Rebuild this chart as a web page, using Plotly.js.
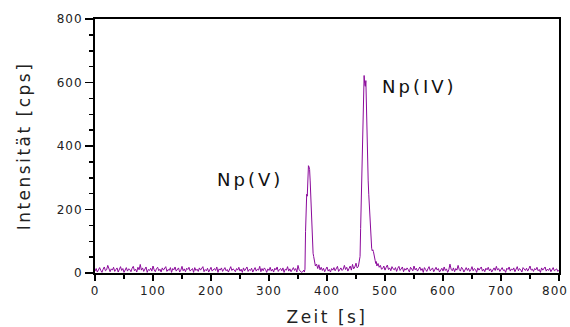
<!DOCTYPE html>
<html>
<head>
<meta charset="utf-8">
<script src="https://cdn.plot.ly/plotly-3.0.1.min.js"></script>
<style>
  html, body { margin: 0; padding: 0; background: #fff; }
  #chart { width: 570px; height: 327px; }
  .xtick text, .ytick text { letter-spacing: 1px; }
  .xtitle, .ytitle { letter-spacing: 2.5px; }
  .annotation-text { letter-spacing: 3px; }
</style>
</head>
<body>
<div id="chart"></div>
<script>
// Baseline before Np(V)
const timeA = [0,2,4,6,8,10,12,14,16,18,
  20,22,24,26,28,30,32,34,36,38,
  40,42,44,46,48,50,52,54,56,58,
  60,62,64,66,68,70,72,74,76,78,
  80,82,84,86,88,90,92,94,96,98,
  100,102,104,106,108,110,112,114,116,118,
  120,122,124,126,128,130,132,134,136,138,
  140,142,144,146,148,150,152,154,156,158,
  160,162,164,166,168,170,172,174,176,178,
  180,182,184,186,188,190,192,194,196,198,
  200,202,204,206,208,210,212,214,216,218,
  220,222,224,226,228,230,232,234,236,238,
  240,242,244,246,248,250,252,254,256,258,
  260,262,264,266,268,270,272,274,276,278,
  280,282,284,286,288,290,292,294,296,298,
  300,302,304,306,308,310,312,314,316,318,
  320,322,324,326,328,330,332,334,336,338,
  340,342,344,346,348,350,352,354,356];
const cpsA = [6,14,3,11,17,8,2,12,19,7,
  10,24,15,4,13,9,18,5,11,16,
  3,12,20,8,14,2,9,17,6,13,
  11,4,15,21,7,12,3,18,10,27,
  9,16,5,13,19,2,11,8,15,6,
  22,10,4,14,18,7,12,3,16,9,
  13,20,5,11,8,17,2,14,10,19,
  6,12,16,3,9,21,7,13,4,15,
  11,18,6,10,14,2,17,8,12,5,
  16,9,13,20,4,11,7,15,3,12,
  18,6,10,14,8,19,2,13,9,16,
  5,12,17,7,11,3,15,20,8,13,
  10,4,14,9,18,6,12,2,16,7,
  13,19,5,11,8,15,3,10,17,6,
  12,9,21,4,14,7,16,11,2,13,
  8,18,6,12,3,15,10,19,5,11,
  14,7,16,2,12,9,20,6,13,4,
  11,17,8,14,3,24,10,6,2];
// Np(V) peak
const timeV = [358,360,361,362,363,364,365,366,367,368,
  369,370,371,372,373,374,375,376,377,378,
  379,380,382,384,386,388,390];
const cpsV = [4,9,3,12,130,238,248,242,325,338,
  334,326,290,232,180,128,92,62,52,38,
  30,22,28,14,26,10,18];
// Baseline between peaks
const timeB = [392,394,396,398,400,402,404,406,408,410,
  412,414,416,418,420,422,424,426,428,430,
  432,434,436,438,440,442,444,446,448,450,
  452];
const cpsB = [8,15,4,12,19,6,11,3,14,9,
  17,7,13,21,5,10,16,8,12,24,
  11,18,6,14,22,9,27,13,19,31,
  16];
// Np(IV) peak
const timeIV = [454,456,457,458,459,460,461,462,463,464,
  465,466,467,468,469,470,471,472,473,474,
  475,476,477,478,479,480,481,482,483,484,
  485,486,488,490,492,494];
const cpsIV = [20,36,52,140,228,316,402,488,575,622,
  596,588,606,505,420,345,290,248,210,182,
  160,118,78,70,73,68,52,44,40,30,
  36,22,30,18,24,12];
// Baseline after Np(IV)
const timeC = [496,498,500,502,504,506,508,510,512,514,
  516,518,520,522,524,526,528,530,532,534,
  536,538,540,542,544,546,548,550,552,554,
  556,558,560,562,564,566,568,570,572,574,
  576,578,580,582,584,586,588,590,592,594,
  596,598,600,602,604,606,608,610,612,614,
  616,618,620,622,624,626,628,630,632,634,
  636,638,640,642,644,646,648,650,652,654,
  656,658,660,662,664,666,668,670,672,674,
  676,678,680,682,684,686,688,690,692,694,
  696,698,700,702,704,706,708,710,712,714,
  716,718,720,722,724,726,728,730,732,734,
  736,738,740,742,744,746,748,750,752,754,
  756,758,760,762,764,766,768,770,772,774,
  776,778,780,782,784,786,788,790,792,794,
  796,798,800];
const cpsC = [14,22,9,18,25,11,16,7,20,13,
  10,17,5,15,21,8,12,19,4,14,
  9,16,11,3,18,13,7,22,10,15,
  6,12,19,8,14,2,17,11,5,13,
  20,7,10,16,4,12,18,9,14,3,
  11,15,6,19,8,13,2,10,28,12,
  7,16,4,14,9,24,11,6,18,13,
  3,12,17,8,15,5,10,20,7,14,
  11,2,16,9,13,19,6,12,4,15,
  10,18,7,13,3,11,16,8,21,9,
  14,5,12,17,8,10,2,15,11,19,
  6,13,9,16,4,12,20,7,14,10,
  3,17,11,8,15,6,13,22,9,12,
  5,14,10,18,7,11,2,16,9,13,
  19,6,12,8,15,4,11,17,7,10,
  13,5,9];

const peakLabels = ["Np(V)", "Np(IV)"];
const peakLabelX = [267, 560];
const peakLabelY = [293, 586];

const xTickVals = [0,100,200,300,400,500,600,700,800];
const yTickVals = [0,200,400,600,800];

const time = [].concat(timeA, timeV, timeB, timeIV, timeC);
const cps = [].concat(cpsA, cpsV, cpsB, cpsIV, cpsC);

const tickFont = {family: "DejaVu Sans", size: 12, color: "#222"};
const titleFont = {family: "DejaVu Sans", size: 17, color: "#222"};

const data = [{
  x: time, y: cps, type: "scatter", mode: "lines",
  line: {color: "#8b0a9b", width: 1},
  hoverinfo: "skip"
}];

const layout = {
  width: 570, height: 327,
  margin: {l: 95, r: 11, t: 19, b: 54, pad: 0},
  paper_bgcolor: "#fff", plot_bgcolor: "#fff",
  showlegend: false,
  xaxis: {
    range: [0, 800], tickvals: xTickVals, ticks: "outside", ticklen: 6, tickwidth: 1.5,
    tickcolor: "#000", showline: true, linecolor: "#000", linewidth: 2, mirror: true,
    showgrid: false, zeroline: false, tickfont: tickFont, ticklabeloverflow: "allow",
    minor: {dtick: 50, ticks: "outside", ticklen: 4, tickwidth: 1.5, tickcolor: "#000", showgrid: false},
    title: {text: "Zeit [s]", font: titleFont, standoff: 14}
  },
  yaxis: {
    range: [0, 800], tickvals: yTickVals, ticks: "outside", ticklen: 8, tickwidth: 1.5,
    tickcolor: "#000", showline: true, linecolor: "#000", linewidth: 2, mirror: true,
    showgrid: false, zeroline: false, tickfont: tickFont, ticklabeloverflow: "allow",
    minor: {dtick: 50, ticks: "outside", ticklen: 4, tickwidth: 1.5, tickcolor: "#000", showgrid: false},
    title: {text: "Intensität [cps]", font: titleFont, standoff: 22}
  },
  annotations: peakLabels.map((t, i) => ({
    x: peakLabelX[i], y: peakLabelY[i], xref: "x", yref: "y", text: t,
    showarrow: false, font: {family: "DejaVu Sans", size: 18, color: "#111"}
  }))
};

Plotly.newPlot("chart", data, layout, {staticPlot: true, displayModeBar: false}).then(function (gd) {
  // Nudge the last x tick label inward so it stays inside the page, as in the reference
  const labels = gd.querySelectorAll(".xtick text");
  if (labels.length) {
    labels[labels.length - 1].setAttribute("dx", "-4");
  }
});
</script>
</body>
</html>
